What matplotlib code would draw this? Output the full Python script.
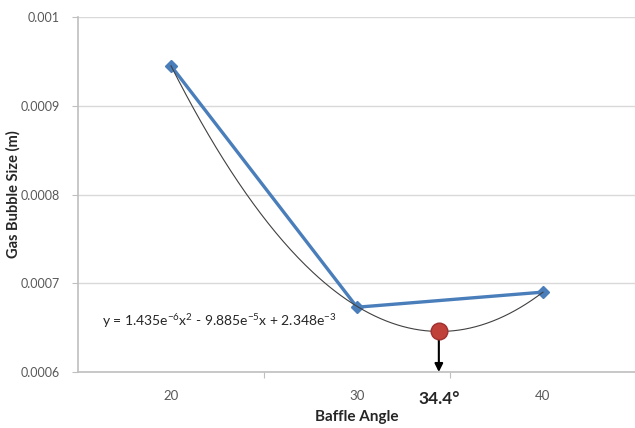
import numpy as np
import matplotlib
matplotlib.use("Agg")
import matplotlib.pyplot as plt

plt.rcParams['font.family'] = ['Lato', 'DejaVu Sans']
plt.rcParams['mathtext.fontset'] = 'custom'
plt.rcParams['mathtext.rm'] = 'Lato'
plt.rcParams['mathtext.it'] = 'Lato:italic'
plt.rcParams['mathtext.bf'] = 'Lato:bold'

# measured bubble size per baffle angle
angles = [20, 30, 40]
bubble_size = [0.000945, 0.000673, 0.000690]

# quadratic trendline coefficients (a, b, c)
coef = [1.435e-6, -9.885e-5, 2.348e-3]
opt_angle = 34.4

y_ticks = [0.0006, 0.0007, 0.0008, 0.0009, 0.001]
y_labels = ['0.0006', '0.0007', '0.0008', '0.0009', '0.001']

fig = plt.figure(figsize=(6.35, 4.28), dpi=100)
ax = fig.add_axes([78 / 635, 56 / 428, 558 / 635, 355 / 428])

blue = '#4a7ebb'
ax.plot(angles, bubble_size, color=blue, lw=2.4, marker='D', ms=6.5,
        markerfacecolor=blue, markeredgecolor=blue, zorder=3)

# trendline through the fitted polynomial
xs = np.linspace(angles[0], angles[-1], 200)
ax.plot(xs, np.polyval(coef, xs), color='#404040', lw=0.8, zorder=4)

# minimum of the fit
y_min = np.polyval(coef, opt_angle)
ax.annotate('', xy=(opt_angle, 0.0006), xytext=(opt_angle, y_min),
            arrowprops=dict(arrowstyle='-|>', color='black', lw=1.5,
                            mutation_scale=12, shrinkA=0, shrinkB=0),
            zorder=5)
ax.plot([opt_angle], [y_min], 'o', ms=12, color='#c0403a',
        markeredgecolor='#a03030', zorder=6)

ax.text(16.3, 0.000657,
        r'y = 1.435e$^{-6}$x$^{2}$ - 9.885e$^{-5}$x + 2.348e$^{-3}$',
        fontsize=10, color='#262626', va='center', ha='left')

ax.set_xlim(15, 45)
ax.set_ylim(0.0006, 0.001)
ax.set_yticks(y_ticks)
ax.set_yticklabels(y_labels, fontsize=9, color='#595959')
ax.tick_params(axis='y', length=4, color='#bfbfbf', pad=9)

# category boundaries carry the tick marks, labels sit at the centres
ax.set_xticks([25, 35])
ax.set_xticklabels(['', ''])
ax.set_xticks(angles, minor=True)
ax.set_xticklabels([str(a) for a in angles], minor=True, fontsize=9.5,
                   color='#595959')
ax.tick_params(axis='x', which='major', length=4, color='#bfbfbf')
ax.tick_params(axis='x', which='minor', length=0, pad=13)

ax.grid(axis='y', color='#d9d9d9', lw=1)
ax.set_axisbelow(True)
for s in ['top', 'right']:
    ax.spines[s].set_visible(False)
for s in ['left', 'bottom']:
    ax.spines[s].set_color('#bfbfbf')
    ax.spines[s].set_linewidth(1.2)

ax.text(opt_angle, -0.075, '34.4°', transform=ax.get_xaxis_transform(),
        fontsize=12.5, fontweight='bold', ha='center', va='center',
        color='#262626')

ax.set_xlabel('Baffle Angle', fontsize=11, fontweight='bold',
              color='#262626', labelpad=6)
ax.set_ylabel('Gas Bubble Size (m)', fontsize=10.5, fontweight='bold',
              color='#262626', va='center')
ax.yaxis.set_label_coords(-0.116, 0.5)

fig.savefig('out.png', dpi=100)
